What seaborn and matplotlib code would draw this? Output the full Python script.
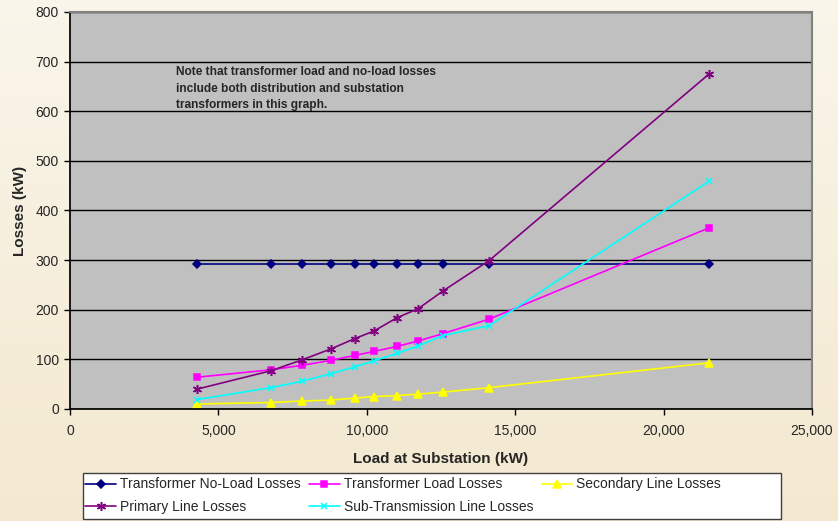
import matplotlib
matplotlib.use("Agg")
import matplotlib.pyplot as plt
import matplotlib.patches as mpatches
import seaborn as sns
import numpy as np
import pandas as pd

sns.set_theme(style="white")
plt.rcParams['font.family'] = ['Liberation Sans', 'DejaVu Sans']

# Data
load_kw = [4280, 6770, 7820, 8790, 9600, 10240, 11020, 11730, 12570, 14120, 21530]
no_load = [292, 292, 292, 292, 292, 292, 292, 292, 292, 292, 292]
xfmr_load = [64, 79, 88, 98, 108, 116, 126, 137, 152, 181, 365]
secondary = [10, 13, 16, 18, 22, 25, 27, 30, 34, 43, 93]
primary = [40, 77, 99, 121, 142, 157, 184, 202, 238, 299, 675]
subtrans = [19, 43, 56, 71, 85, 97, 112, 127, 148, 168, 459]

series = [
    ("Transformer No-Load Losses", no_load, "#000080", "D", 4),
    ("Transformer Load Losses", xfmr_load, "#FF00FF", "s", 5),
    ("Secondary Line Losses", secondary, "#FFFF00", "^", 5.5),
    ("Primary Line Losses", primary, "#800080", (6, 2, 0), 6.5),
    ("Sub-Transmission Line Losses", subtrans, "#00FFFF", "x", 5),
]

fig = plt.figure(figsize=(8.38, 5.21), dpi=100)
fig.patch.set_facecolor("#F6F0DE")

# background gradient
bg = fig.add_axes([0, 0, 1, 1], zorder=-10)
grad = np.linspace(0, 1, 64).reshape(-1, 1)
top = np.array([0.98, 0.965, 0.925])
bot = np.array([0.955, 0.91, 0.81])
img = np.repeat((top + (bot - top) * grad[:, :, None]), 8, axis=1)
bg.imshow(img, aspect="auto", extent=[-0.05, 1.05, -0.05, 1.05], interpolation="bilinear")
bg.set_xlim(0, 1)
bg.set_ylim(0, 1)
bg.axis("off")

ax = fig.add_axes([0.0835, 0.215, 0.8855, 0.762])
ax.set_facecolor("#C0C0C0")

handles = {}
for name, vals, color, mk, ms in series:
    df = pd.DataFrame({"load": load_kw, "loss": vals})
    sns.lineplot(data=df, x="load", y="loss", ax=ax, color=color, marker=mk,
                 markersize=ms, markeredgecolor=color, markeredgewidth=1.1,
                 linewidth=1.2, label=name, legend=False)
    handles[name] = ax.lines[-1]

ax.set_xlim(0, 25000)
ax.set_ylim(0, 800)
ax.set_xticks(range(0, 25001, 5000))
ax.set_yticks(range(0, 801, 100))
ax.xaxis.set_major_formatter(matplotlib.ticker.FuncFormatter(lambda v, p: f"{int(v):,}"))
ax.yaxis.grid(True, color="black", linewidth=1)
ax.xaxis.grid(False)
ax.set_axisbelow(True)
for s in ["top", "right"]:
    ax.spines[s].set_color("#808080")
    ax.spines[s].set_linewidth(1.5)
ax.spines["left"].set_color("black")
ax.spines["bottom"].set_color("black")
ax.tick_params(axis="both", direction="out", length=4, width=1, color="black",
               labelsize=10, bottom=True, left=True, pad=4)
ax.tick_params(axis="x", pad=7)
ax.set_xlabel("Load at Substation (kW)", fontsize=11, fontweight="bold", labelpad=10)
ax.set_ylabel("Losses (kW)", fontsize=11, fontweight="bold", labelpad=6)

ax.text(0.1425, 0.865,
        "Note that transformer load and no-load losses\ninclude both distribution and substation\ntransformers in this graph.",
        transform=ax.transAxes, fontsize=8.6, fontweight="bold", va="top", ha="left",
        linespacing=1.55)

# legend box
fig.patches.append(mpatches.Rectangle((83 / 838, 2 / 521), 698 / 838, 46 / 521,
                                      transform=fig.transFigure, facecolor="white",
                                      edgecolor="#404040", linewidth=1.0, zorder=1))
order = ["Transformer No-Load Losses", "Primary Line Losses", "Transformer Load Losses",
         "Sub-Transmission Line Losses", "Secondary Line Losses"]
leg = fig.legend([handles[n] for n in order], order, ncol=3, loc="upper left",
                 bbox_to_anchor=(84 / 838, 1 - 476 / 521),
                 frameon=False, handlelength=2.2, handletextpad=0.3,
                 borderpad=0.1, labelspacing=0.6, columnspacing=0.6,
                 borderaxespad=0, prop={"size": 10})
leg.set_zorder(2)

fig.savefig("out.png", dpi=100)
